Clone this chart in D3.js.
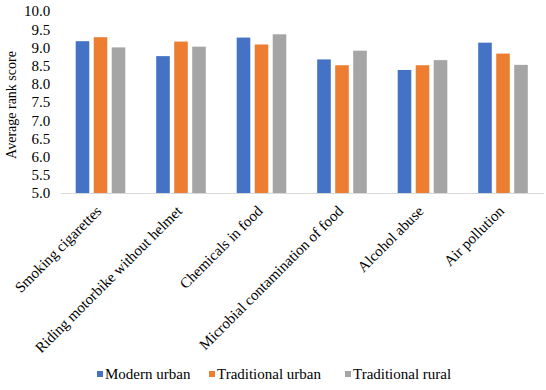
<!DOCTYPE html>
<html>
<head>
<meta charset="utf-8">
<script src="https://cdn.jsdelivr.net/npm/d3@7"></script>
<style>
  body { margin: 0; background: #fff; }
</style>
</head>
<body>
<svg id="chart"></svg>
<script>
// chart data
const categories = [
  "Smoking cigarettes",
  "Riding motorbike without helmet",
  "Chemicals in food",
  "Microbial contamination of food",
  "Alcohol abuse",
  "Air pollution"
];
const seriesNames = ["Modern urban", "Traditional urban", "Traditional rural"];
const modernUrban = [9.17, 8.76, 9.27, 8.67, 8.38, 9.13];
const traditionalUrban = [9.28, 9.16, 9.08, 8.51, 8.51, 8.83];
const traditionalRural = [9.00, 9.02, 9.36, 8.91, 8.65, 8.52];
const yTicks = [5.0, 5.5, 6.0, 6.5, 7.0, 7.5, 8.0, 8.5, 9.0, 9.5, 10.0];

const seriesValues = [modernUrban, traditionalUrban, traditionalRural];
const colours = ["#4472C4", "#ED7D31", "#A5A5A5"];
const serif = "'Liberation Serif', 'Times New Roman', Times, 'DejaVu Serif', serif";

const width = 546, height = 390;
const plot = { left: 60.25, right: 543.25, top: 11, bottom: 193 };

const svg = d3.select("#chart")
  .attr("width", width)
  .attr("height", height)
  .attr("font-family", serif);

// scales
const x0 = d3.scaleBand()
  .domain(categories)
  .range([plot.left, plot.right])
  .paddingInner(0.33)
  .paddingOuter(0.165);

const x1 = d3.scaleBand()
  .domain(seriesNames)
  .range([0, x0.bandwidth()])
  .paddingInner(0.245)
  .paddingOuter(0.12);

const y = d3.scaleLinear()
  .domain([5, 10])
  .range([plot.bottom, plot.top]);

// bars, one group per category
const rows = categories.map((c, i) => ({
  cat: c,
  vals: seriesNames.map((s, j) => ({ s: s, v: seriesValues[j][i], k: j }))
}));

const groups = svg.append("g").selectAll("g")
  .data(rows)
  .join("g")
  .attr("transform", d => `translate(${x0(d.cat)},0)`);

groups.selectAll("rect")
  .data(d => d.vals)
  .join("rect")
  .attr("x", d => x1(d.s))
  .attr("width", x1.bandwidth())
  .attr("y", d => y(d.v))
  .attr("height", d => y(5) - y(d.v))
  .attr("fill", d => colours[d.k]);

// y axis (labels only)
const yAxisG = svg.append("g")
  .attr("transform", `translate(${plot.left},0)`)
  .call(d3.axisLeft(y).tickValues(yTicks).tickFormat(d3.format(".1f")).tickSize(0).tickPadding(10));
yAxisG.attr("font-family", serif).attr("font-size", 15);
yAxisG.select(".domain").remove();
yAxisG.selectAll("text").attr("fill", "#000");

// x axis with rotated labels
const xAxisG = svg.append("g")
  .attr("transform", `translate(0,${plot.bottom})`)
  .call(d3.axisBottom(x0).tickSize(0).tickSizeOuter(0));
xAxisG.attr("font-family", serif).attr("font-size", 15);
xAxisG.select(".domain")
  .attr("stroke", "#D9D9D9")
  .attr("stroke-width", 1);
xAxisG.selectAll("text")
  .attr("fill", "#000")
  .attr("text-anchor", "end")
  .attr("y", 0)
  .attr("dy", null)
  .attr("transform", "translate(2,19) rotate(-45)");

// y axis title
svg.append("text")
  .attr("transform", "translate(16,105) rotate(-90)")
  .attr("text-anchor", "middle")
  .attr("font-size", 14)
  .text("Average rank score");

// legend
const legendX = [97, 209, 345];
const legend = svg.append("g")
  .attr("transform", "translate(0,374)");

const items = legend.selectAll("g")
  .data(seriesNames)
  .join("g")
  .attr("transform", (d, i) => `translate(${legendX[i]},0)`);

items.append("rect")
  .attr("x", 0)
  .attr("y", -3)
  .attr("width", 6)
  .attr("height", 6)
  .attr("fill", (d, i) => colours[i]);

items.append("text")
  .attr("x", 8)
  .attr("y", 5)
  .attr("font-size", 15)
  .text(d => d);
</script>
</body>
</html>
